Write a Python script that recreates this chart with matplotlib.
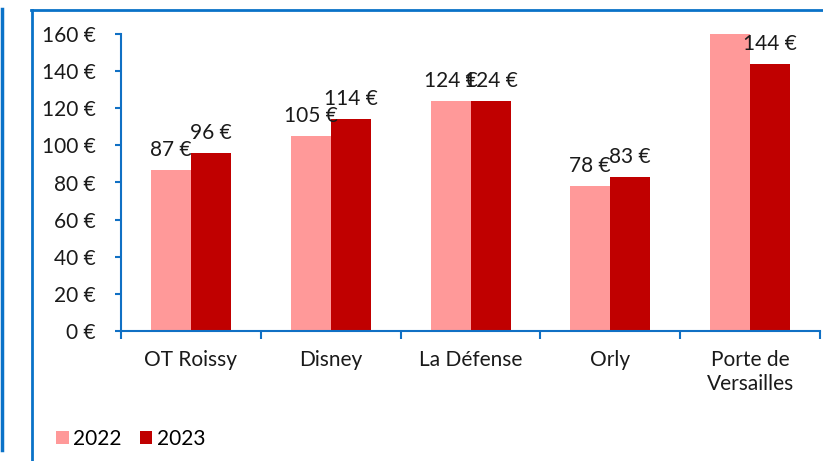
import matplotlib
matplotlib.use("Agg")
import matplotlib.pyplot as plt
from matplotlib.lines import Line2D
from matplotlib.patches import Patch
import numpy as np

categories = ["OT Roissy", "Disney", "La Défense", "Orly", "Porte de\nVersailles"]
series_names = ["2022", "2023"]
values_2022 = [87, 105, 124, 78, 160]
values_2023 = [96, 114, 124, 83, 144]
labels_2022 = ["87 €", "105 €", "124 €", "78 €", None]
labels_2023 = ["96 €", "114 €", "124 €", "83 €", "144 €"]
yticks = [0, 20, 40, 60, 80, 100, 120, 140, 160]
ytick_labels = [f"{v} €" for v in yticks]

colors = ["#FF9999", "#C00000"]
blue = "#1070C4"
FONT = ["Lato", "DejaVu Sans"]
plt.rcParams["font.family"] = FONT
FS = 15

fig = plt.figure(figsize=(8.23, 4.61), dpi=100)
W, H = 823, 461
ax = fig.add_axes([121 / W, (H - 331) / H, (820 - 121) / W, (331 - 34) / H])

x = np.arange(len(categories))
bw = 40 / 139.8
b1 = ax.bar(x - bw / 2, values_2022, bw, color=colors[0], zorder=2)
b2 = ax.bar(x + bw / 2, values_2023, bw, color=colors[1], zorder=2)

for bars, labs in ((b1, labels_2022), (b2, labels_2023)):
    for r, lab in zip(bars, labs):
        if lab is None:
            continue
        ax.annotate(lab, (r.get_x() + r.get_width() / 2, r.get_height()),
                    xytext=(0, 10), textcoords="offset points",
                    ha="center", va="baseline", fontsize=FS, color="#1a1a1a",
                    zorder=3, annotation_clip=False)

ax.set_xlim(-0.5, len(categories) - 0.5)
ax.set_ylim(0, 160)
ax.set_yticks(yticks)
ax.set_yticklabels(ytick_labels, fontsize=FS, color="#1a1a1a")
ax.set_xticks(np.arange(len(categories) + 1) - 0.5)
ax.set_xticklabels([])
ax.set_xticks(x, minor=True)
ax.set_xticklabels(categories, minor=True, fontsize=FS, color="#1a1a1a",
                   linespacing=1.25)
ax.tick_params(axis="x", which="minor", length=0, pad=14)
ax.tick_params(axis="x", which="major", length=6, width=1.5, color=blue, direction="out")
ax.tick_params(axis="y", length=4, width=1.5, color=blue, direction="out", pad=14)
for s in ("top", "right"):
    ax.spines[s].set_visible(False)
for s in ("left", "bottom"):
    ax.spines[s].set_color(blue)
    ax.spines[s].set_linewidth(1.5)

handles = [Patch(facecolor=c, edgecolor="none") for c in colors]
fig.legend(handles, series_names, loc="center left",
           bbox_to_anchor=(56 / W, (H - 439) / H), ncol=2, frameon=False,
           fontsize=FS, handlelength=0.6, handleheight=0.6, handletextpad=0.2,
           columnspacing=0.9, borderaxespad=0, borderpad=0)

# decorative blue frame lines
fig.add_artist(Line2D([1.5 / W, 1.5 / W], [1 - 9 / H, 1 - 450 / H], color="#0A72C8", lw=2.5,
                      transform=fig.transFigure))
fig.add_artist(Line2D([32 / W, 32 / W], [0, 1 - 10 / H], color="#0A72C8", lw=2.0,
                      transform=fig.transFigure))
fig.add_artist(Line2D([31 / W, 1], [1 - 10 / H, 1 - 10 / H], color="#0A72C8", lw=2.0,
                      transform=fig.transFigure))

fig.savefig("out.png", dpi=100)
